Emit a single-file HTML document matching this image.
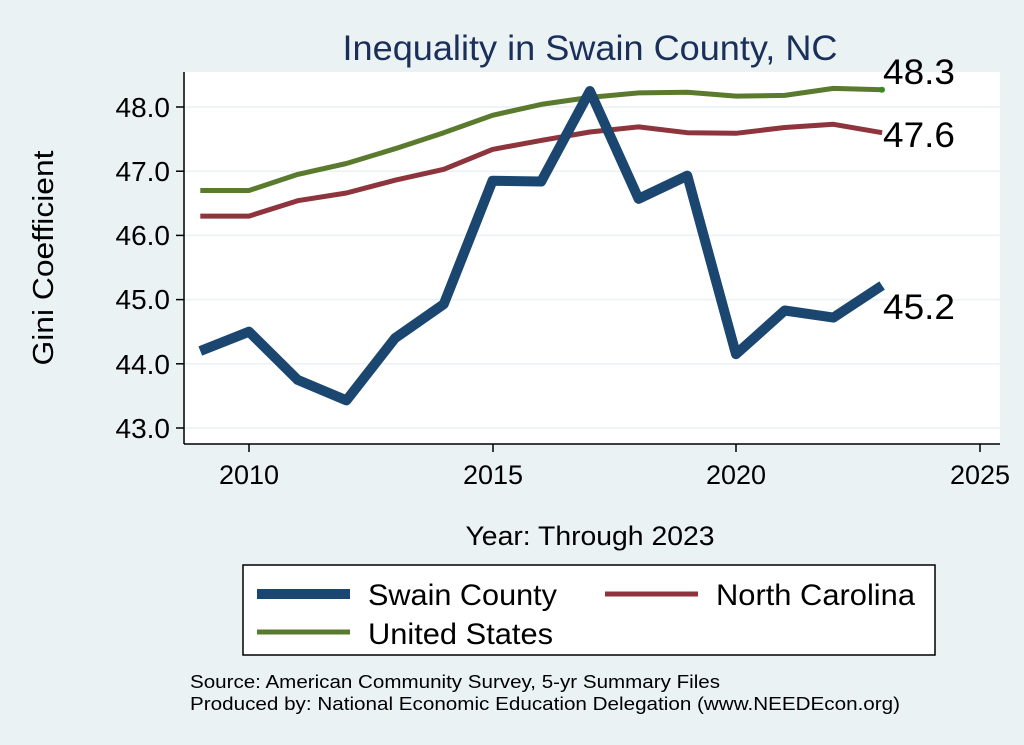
<!DOCTYPE html>
<html><head><style>
body{margin:0;background:#eaf2f3;}
svg{display:block;font-family:"Liberation Sans",sans-serif;}
</style></head><body>
<svg width="1024" height="745" viewBox="0 0 1024 745">
<rect width="1024" height="745" fill="#eaf2f3"/>
<rect x="185" y="72" width="815" height="372" fill="#fff"/>
<g stroke="#eaf2f3" stroke-width="1.5">
<line x1="185" x2="1000" y1="107" y2="107"/><line x1="185" x2="1000" y1="171.2" y2="171.2"/>
<line x1="185" x2="1000" y1="235.4" y2="235.4"/><line x1="185" x2="1000" y1="299.6" y2="299.6"/>
<line x1="185" x2="1000" y1="363.8" y2="363.8"/><line x1="185" x2="1000" y1="428" y2="428"/>
</g>
<g stroke="#000" stroke-width="1.5">
<line x1="184" y1="72" x2="184" y2="444"/><line x1="184" y1="444" x2="1000" y2="444"/>
<line x1="176" x2="184" y1="107" y2="107"/><line x1="176" x2="184" y1="171.2" y2="171.2"/>
<line x1="176" x2="184" y1="235.4" y2="235.4"/><line x1="176" x2="184" y1="299.6" y2="299.6"/>
<line x1="176" x2="184" y1="363.8" y2="363.8"/><line x1="176" x2="184" y1="428" y2="428"/>
<line x1="249" x2="249" y1="444" y2="452"/><line x1="493" x2="493" y1="444" y2="452"/>
<line x1="736" x2="736" y1="444" y2="452"/><line x1="980" x2="980" y1="444" y2="452"/>
</g>
<g font-size="28" text-anchor="end" fill="#000">
<text x="170" y="117">48.0</text><text x="170" y="181">47.0</text><text x="170" y="245">46.0</text>
<text x="170" y="309">45.0</text><text x="170" y="374">44.0</text><text x="170" y="438">43.0</text>
</g>
<g font-size="27" text-anchor="middle">
<text x="249" y="484">2010</text><text x="493" y="484">2015</text><text x="736" y="484">2020</text><text x="980" y="484">2025</text>
<text x="590" y="545" textLength="249" lengthAdjust="spacingAndGlyphs">Year: Through 2023</text>
<text x="590" y="60" font-size="35" fill="#1a2f5a" textLength="495" lengthAdjust="spacingAndGlyphs">Inequality in Swain County, NC</text>
</g>
<text transform="translate(53,258) rotate(-90)" font-size="29" text-anchor="middle" textLength="215" lengthAdjust="spacingAndGlyphs">Gini Coefficient</text>
<g id="lines" fill="none" stroke-linejoin="round"></g>
<circle cx="882" cy="89.7" r="3" fill="#3a8a1e"/>
<g font-size="35">
<text x="883" y="84" textLength="72" lengthAdjust="spacingAndGlyphs">48.3</text>
<text x="883" y="147" textLength="72" lengthAdjust="spacingAndGlyphs">47.6</text>
<text x="883" y="319" textLength="72" lengthAdjust="spacingAndGlyphs">45.2</text>
</g>
<rect x="243" y="565" width="692" height="90" fill="#fff" stroke="#000" stroke-width="1.5"/>
<line x1="257" x2="350" y1="594" y2="594" stroke="#1a4670" stroke-width="10"/>
<line x1="605" x2="698" y1="594" y2="594" stroke="#8e343c" stroke-width="5"/>
<line x1="257" x2="350" y1="632" y2="632" stroke="#5a7a2e" stroke-width="5"/>
<g font-size="30"><text x="368" y="605" textLength="189" lengthAdjust="spacingAndGlyphs">Swain County</text>
<text x="716" y="605" textLength="199" lengthAdjust="spacingAndGlyphs">North Carolina</text>
<text x="368" y="644" textLength="185" lengthAdjust="spacingAndGlyphs">United States</text></g>
<g font-size="18"><text x="190" y="688" textLength="530" lengthAdjust="spacingAndGlyphs">Source: American Community Survey, 5-yr Summary Files</text>
<text x="190" y="710" textLength="710" lengthAdjust="spacingAndGlyphs">Produced by: National Economic Education Delegation (www.NEEDEcon.org)</text></g>
</svg>
<script>
var sw=[44.2,44.5,43.75,43.43,44.4,44.93,46.85,46.84,48.25,46.57,46.93,44.15,44.83,44.72,45.22];
var nc=[46.3,46.3,46.54,46.66,46.86,47.03,47.34,47.48,47.61,47.69,47.6,47.59,47.68,47.73,47.6];
var us=[46.7,46.7,46.95,47.12,47.35,47.6,47.87,48.04,48.15,48.22,48.23,48.17,48.18,48.29,48.27];
function pts(a){return a.map(function(v,i){return (200.3+i*48.7).toFixed(1)+','+(107+(48-v)*64.2).toFixed(1)}).join(' ');}
var g=document.getElementById('lines');
g.innerHTML='<polyline points="'+pts(us)+'" stroke="#5a7a2e" stroke-width="5"/>'+
'<polyline points="'+pts(nc)+'" stroke="#8e343c" stroke-width="5"/>'+
'<polyline points="'+pts(sw)+'" stroke="#1a4670" stroke-width="10"/>';
</script>
</body></html>
